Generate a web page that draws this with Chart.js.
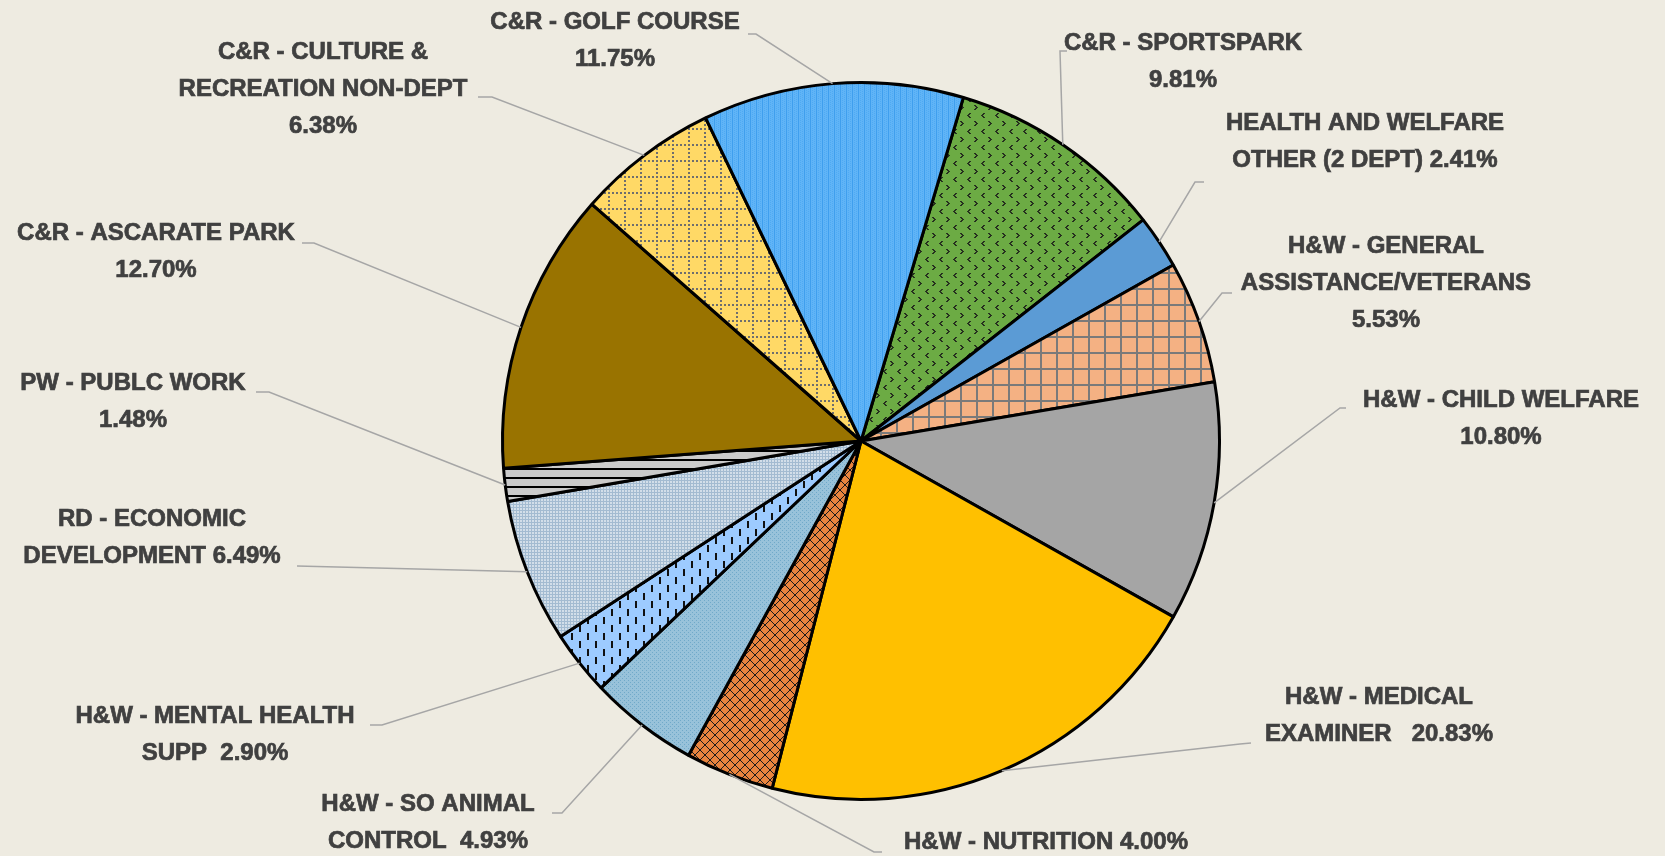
<!DOCTYPE html>
<html>
<head>
<meta charset="utf-8">
<script src="https://cdn.jsdelivr.net/npm/chart.js@4.4.1/dist/chart.umd.min.js"></script>
<style>
  html, body { margin: 0; padding: 0; background: #eeebe1; }
  .wrap { width: 1665px; height: 856px; position: relative; }
</style>
</head>
<body>
<div class="wrap"><canvas class="budget-pie"></canvas></div>
<script>
// slices, clockwise from the top-right
const categories = [
  "C&R - SPORTSPARK",
  "HEALTH AND WELFARE OTHER (2 DEPT)",
  "H&W - GENERAL ASSISTANCE/VETERANS",
  "H&W - CHILD WELFARE",
  "H&W - MEDICAL EXAMINER",
  "H&W - NUTRITION",
  "H&W - SO ANIMAL CONTROL",
  "H&W - MENTAL HEALTH SUPP",
  "RD - ECONOMIC DEVELOPMENT",
  "PW - PUBLC WORK",
  "C&R - ASCARATE PARK",
  "C&R - CULTURE & RECREATION NON-DEPT",
  "C&R - GOLF COURSE",
];
const shares = [9.81, 2.41, 5.53, 10.8, 20.83, 4.0, 4.93, 2.9, 6.49, 1.48, 12.7, 6.38, 11.75];

// how each label is broken into lines ({v} = share)
const labelLines = [
  ["C&R - SPORTSPARK", "{v}"],
  ["HEALTH AND WELFARE", "OTHER (2 DEPT) {v}"],
  ["H&W - GENERAL", "ASSISTANCE/VETERANS", "{v}"],
  ["H&W - CHILD WELFARE", "{v}"],
  ["H&W - MEDICAL", "EXAMINER   {v}"],
  ["H&W - NUTRITION {v}"],
  ["H&W - SO ANIMAL", "CONTROL  {v}"],
  ["H&W - MENTAL HEALTH", "SUPP  {v}"],
  ["RD - ECONOMIC", "DEVELOPMENT {v}"],
  ["PW - PUBLC WORK", "{v}"],
  ["C&R - ASCARATE PARK", "{v}"],
  ["C&R - CULTURE &", "RECREATION NON-DEPT", "{v}"],
  ["C&R - GOLF COURSE", "{v}"],
];

// label placement: text centre x, first line y, leader start, leader elbow
const labelPos = [
  { x: 1183, y: 43, from: [1067, 51], elbow: [1060, 51] },
  { x: 1365, y: 123, from: [1204, 182], elbow: [1195, 182] },
  { x: 1386, y: 246, from: [1232, 293], elbow: [1222, 293] },
  { x: 1501, y: 400, from: [1346, 408], elbow: [1340, 408] },
  { x: 1379, y: 697, from: [1251, 743], elbow: [1240, 744] },
  { x: 1046, y: 842, from: [882, 852], elbow: [874, 852] },
  { x: 428, y: 804, from: [552, 813], elbow: [562, 813] },
  { x: 215, y: 716, from: [370, 725], elbow: [382, 725] },
  { x: 152, y: 519, from: [297, 566], elbow: [297, 566] },
  { x: 133, y: 383, from: [256, 392], elbow: [269, 392] },
  { x: 156, y: 233, from: [302, 243], elbow: [314, 243] },
  { x: 323, y: 52, from: [478, 97], elbow: [492, 97] },
  { x: 615, y: 22, from: [748, 34], elbow: [756, 34] },
];

function tile(w, h, bg, draw) {
  const c = document.createElement("canvas");
  c.width = w;
  c.height = h;
  const g = c.getContext("2d");
  g.fillStyle = bg;
  g.fillRect(0, 0, w, h);
  if (draw) draw(g);
  return g.createPattern(c, "repeat");
}

function chevron(g, x, y, dir) {
  const pts = dir < 0 ? [2, 1, 0, 1, 2] : [0, 1, 2, 1, 0];
  pts.forEach((dx, i) => g.fillRect(x + dx, y + i, 2, 1));
}

const fills = [
  tile(14, 16, "#6cab44", (g) => {
    g.fillStyle = "#26301f";
    chevron(g, 1, 1, -1);
    chevron(g, 8, 9, 1);
  }),
  "#5b9bd5",
  tile(16, 16, "#f4b183", (g) => {
    g.fillStyle = "#7a7a7a";
    g.fillRect(0, 0, 16, 2);
    g.fillRect(0, 0, 2, 16);
  }),
  "#a5a5a5",
  "#ffc000",
  tile(10, 10, "#e8843f", (g) => {
    g.fillStyle = "#1a1a1a";
    for (let i = 0; i < 10; i++) {
      g.fillRect(i, i, 1, 1);
      g.fillRect(9 - i, i, 1, 1);
    }
  }),
  tile(4, 4, "#98c2da", (g) => {
    g.fillStyle = "#70a9c9";
    g.fillRect(0, 0, 1, 1);
    g.fillRect(2, 2, 1, 1);
  }),
  tile(16, 16, "#9dcbff", (g) => {
    g.fillStyle = "#111";
    g.fillRect(3, 1, 2, 7);
    g.fillRect(11, 9, 2, 7);
  }),
  tile(3, 3, "#d2dee9", (g) => {
    g.fillStyle = "#a3bbd1";
    g.fillRect(0, 0, 3, 1);
    g.fillRect(0, 0, 1, 3);
  }),
  tile(9, 9, "#cbcbcb", (g) => {
    g.fillStyle = "#000";
    g.fillRect(0, 0, 9, 2);
  }),
  "#997300",
  tile(16, 16, "#ffd966", (g) => {
    g.fillStyle = "#6e6e6e";
    for (let i = 0; i < 16; i += 4) {
      g.fillRect(i, 0, 2, 2);
      g.fillRect(0, i, 2, 2);
    }
  }),
  tile(6, 2, "#60b4f7", (g) => {
    g.fillStyle = "#3f9fee";
    g.fillRect(0, 0, 1, 2);
    g.fillStyle = "#4eaaf3";
    g.fillRect(2, 0, 1, 1);
    g.fillRect(4, 1, 1, 1);
  }),
];

const outsideLabels = {
  id: "outsideLabels",
  afterDatasetsDraw(chart) {
    const ctx = chart.ctx;
    const arcs = chart.getDatasetMeta(0).data;
    ctx.save();
    arcs.forEach((arc, i) => {
      const pos = labelPos[i];
      const mid = (arc.startAngle + arc.endAngle) / 2;
      const r = arc.outerRadius;
      const ex = arc.x + Math.cos(mid) * r;
      const ey = arc.y + Math.sin(mid) * r;

      ctx.strokeStyle = "#a6a6a6";
      ctx.lineWidth = 1.5;
      ctx.beginPath();
      ctx.moveTo(pos.from[0], pos.from[1]);
      ctx.lineTo(pos.elbow[0], pos.elbow[1]);
      ctx.lineTo(ex, ey);
      ctx.stroke();

      ctx.fillStyle = "#404040";
      ctx.strokeStyle = "#404040";
      ctx.lineWidth = 0.7;
      ctx.font = "bold 24px 'Liberation Sans', Arial, sans-serif";
      ctx.textAlign = "center";
      ctx.textBaseline = "middle";
      const v = shares[i].toFixed(2) + "%";
      labelLines[i].forEach((line, j) => {
        const txt = line.replace("{v}", v);
        ctx.fillText(txt, pos.x, pos.y + j * 37);
        ctx.strokeText(txt, pos.x, pos.y + j * 37);
      });
    });
    ctx.restore();
  },
};

const config = {
  type: "pie",
  data: {
    labels: categories,
    datasets: [
      {
        data: shares,
        backgroundColor: fills,
        borderColor: "#000000",
        borderWidth: 3,
      },
    ],
  },
  options: {
    responsive: true,
    maintainAspectRatio: false,
    animation: false,
    events: [],
    rotation: 16.6,
    layout: {
      padding: { top: 81, bottom: 55, left: 400, right: 343 },
    },
    plugins: {
      legend: { display: false },
      tooltip: { enabled: false },
      title: { display: false },
    },
  },
  plugins: [outsideLabels],
};

const pieElem = document.querySelector(".budget-pie").getContext("2d");
new Chart(pieElem, config);
</script>
</body>
</html>
